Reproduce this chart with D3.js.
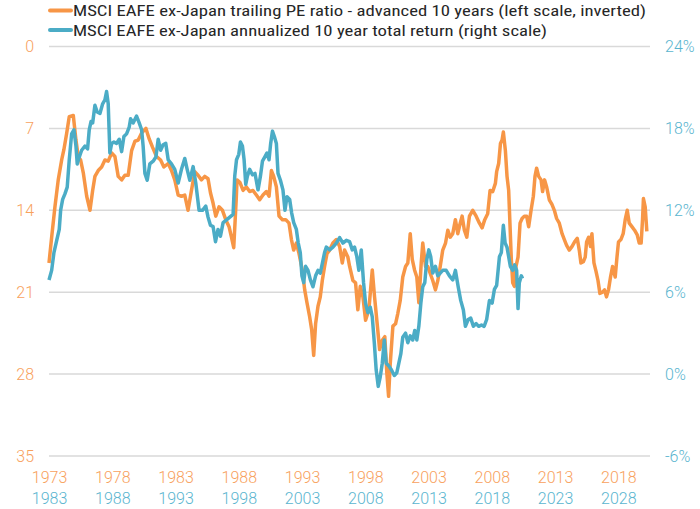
<!DOCTYPE html>
<html>
<head>
<meta charset="utf-8">
<script src="https://cdn.jsdelivr.net/npm/d3@7"></script>
<style>
  html, body { margin: 0; padding: 0; background: #fff; }
  svg { display: block; }
</style>
</head>
<body>
<div id="chart"></div>
<script>
// PE ratio, plotted on the upper (1973..) date axis, inverted left scale
const peSeries = [
  [1973.00, 18.5], [1973.21, 16.3], [1973.47, 13.7], [1973.73, 11.4], [1974.00, 9.7],
  [1974.18, 8.8], [1974.40, 7.4], [1974.60, 6.0], [1974.92, 5.9], [1975.13, 8.0],
  [1975.31, 9.4], [1975.50, 9.7], [1975.71, 10.8], [1975.98, 12.8], [1976.24, 14.0],
  [1976.45, 12.3], [1976.63, 11.1], [1976.89, 10.6], [1977.16, 10.3], [1977.42, 9.7],
  [1977.68, 9.8], [1977.95, 9.1], [1978.21, 9.4], [1978.47, 11.1], [1978.74, 11.4],
  [1979.00, 11.0], [1979.26, 11.0], [1979.53, 8.9], [1979.79, 8.1], [1980.05, 8.0],
  [1980.32, 7.4], [1980.66, 7.0], [1980.92, 7.9], [1981.18, 8.6], [1981.50, 9.4],
  [1981.82, 9.7], [1982.08, 10.3], [1982.42, 10.0], [1982.68, 10.6], [1982.94, 11.4],
  [1983.21, 12.7], [1983.47, 12.8], [1983.73, 12.7], [1983.99, 14.0], [1984.26, 12.3],
  [1984.52, 10.7], [1984.78, 11.0], [1985.05, 11.4], [1985.31, 11.1], [1985.57, 11.3],
  [1985.76, 12.5], [1985.97, 13.4], [1986.18, 14.5], [1986.44, 13.7], [1986.71, 14.0],
  [1986.97, 14.8], [1987.23, 15.4], [1987.42, 16.3], [1987.60, 17.2], [1987.80, 13.0],
  [1987.86, 11.4], [1988.08, 11.6], [1988.34, 12.3], [1988.60, 12.0], [1988.86, 12.4],
  [1989.12, 12.3], [1989.39, 12.7], [1989.65, 13.1], [1989.91, 12.7], [1990.18, 12.4],
  [1990.39, 12.8], [1990.58, 10.6], [1990.76, 11.1], [1990.97, 12.0], [1991.18, 14.5],
  [1991.45, 14.8], [1991.71, 14.8], [1991.97, 15.1], [1992.16, 16.5], [1992.34, 17.4],
  [1992.55, 16.8], [1992.76, 17.7], [1993.02, 19.1], [1993.21, 20.8], [1993.39, 21.9],
  [1993.60, 23.1], [1993.76, 24.2], [1993.92, 26.4], [1994.07, 23.7], [1994.26, 22.2],
  [1994.44, 21.4], [1994.60, 20.0], [1994.78, 18.8], [1994.97, 17.7], [1995.18, 17.4],
  [1995.44, 16.8], [1995.71, 16.5], [1995.97, 17.1], [1996.18, 18.5], [1996.36, 17.4],
  [1996.62, 18.0], [1996.76, 18.8], [1997.02, 20.0], [1997.23, 20.2], [1997.41, 22.5],
  [1997.60, 20.5], [1997.81, 21.4], [1998.02, 23.4], [1998.28, 22.5], [1998.55, 19.1],
  [1998.73, 21.4], [1998.91, 23.4], [1999.13, 25.9], [1999.34, 25.1], [1999.54, 24.8],
  [1999.70, 27.9], [1999.84, 29.9], [1999.97, 27.1], [2000.18, 23.9], [2000.39, 23.7],
  [2000.57, 22.8], [2000.76, 21.7], [2000.96, 19.7], [2001.18, 18.8], [2001.36, 18.5],
  [2001.55, 16.0], [2001.71, 18.2], [2001.89, 19.1], [2002.07, 19.7], [2002.23, 21.9],
  [2002.42, 18.5], [2002.54, 16.8], [2002.76, 18.8], [2002.94, 18.8], [2003.13, 19.4],
  [2003.33, 20.0], [2003.54, 20.8], [2003.73, 20.0], [2003.92, 18.8], [2004.12, 17.4],
  [2004.34, 16.8], [2004.52, 15.7], [2004.71, 16.3], [2004.91, 16.0], [2005.12, 14.8],
  [2005.31, 16.0], [2005.50, 15.1], [2005.65, 14.5], [2005.83, 15.7], [2006.02, 16.3],
  [2006.23, 14.5], [2006.49, 14.0], [2006.76, 14.5], [2007.02, 15.1], [2007.23, 15.5],
  [2007.44, 14.8], [2007.67, 14.3], [2007.86, 12.3], [2008.07, 12.4], [2008.28, 11.7],
  [2008.38, 10.7], [2008.54, 10.0], [2008.68, 8.3], [2008.81, 8.0], [2008.91, 7.3],
  [2009.07, 8.9], [2009.20, 11.1], [2009.33, 12.3], [2009.44, 15.4], [2009.54, 18.2],
  [2009.65, 20.2], [2009.78, 20.5], [2009.91, 18.8], [2010.07, 18.0], [2010.23, 15.1],
  [2010.39, 14.7], [2010.57, 14.5], [2010.75, 14.5], [2010.91, 15.4], [2011.10, 14.0],
  [2011.28, 12.8], [2011.41, 11.1], [2011.54, 10.4], [2011.70, 11.1], [2011.89, 11.4],
  [2012.01, 12.4], [2012.17, 11.4], [2012.33, 12.0], [2012.54, 13.1], [2012.75, 13.5],
  [2012.94, 14.0], [2013.12, 14.7], [2013.33, 15.1], [2013.55, 16.0], [2013.73, 16.5],
  [2013.91, 17.0], [2014.12, 17.4], [2014.33, 17.1], [2014.54, 16.7], [2014.75, 16.4],
  [2014.91, 17.4], [2015.04, 18.5], [2015.23, 18.4], [2015.38, 18.0], [2015.49, 16.7],
  [2015.65, 16.3], [2015.80, 17.1], [2015.91, 16.0], [2016.07, 18.5], [2016.23, 19.2],
  [2016.39, 20.0], [2016.54, 21.1], [2016.75, 21.0], [2016.91, 20.8], [2017.06, 21.4],
  [2017.22, 20.8], [2017.38, 19.7], [2017.54, 18.8], [2017.75, 19.7], [2017.89, 18.0],
  [2018.01, 16.7], [2018.20, 16.5], [2018.38, 16.0], [2018.54, 14.8], [2018.70, 14.0],
  [2018.86, 15.1], [2019.07, 15.4], [2019.28, 15.7], [2019.49, 16.1], [2019.65, 16.8],
  [2019.80, 16.8], [2019.91, 14.8], [2019.98, 13.0], [2020.12, 13.7], [2020.25, 15.8]
];

// annualized 10y total return (%), plotted on the lower (1983..) date axis
const returnSeries = [
  [1983.00, 6.9], [1983.21, 7.6], [1983.39, 8.9], [1983.61, 9.8], [1983.81, 10.6],
  [1983.92, 12.0], [1984.08, 12.8], [1984.26, 13.2], [1984.44, 13.7], [1984.60, 15.7],
  [1984.79, 17.6], [1984.97, 17.9], [1985.13, 16.7], [1985.23, 15.4], [1985.39, 15.9],
  [1985.58, 16.4], [1985.84, 16.7], [1986.05, 16.5], [1986.18, 17.9], [1986.32, 18.5],
  [1986.45, 18.4], [1986.63, 19.7], [1986.81, 19.2], [1987.03, 19.1], [1987.24, 19.8],
  [1987.42, 20.1], [1987.55, 20.7], [1987.68, 19.8], [1987.81, 16.2], [1987.95, 16.9],
  [1988.13, 17.0], [1988.34, 16.9], [1988.55, 17.2], [1988.74, 16.3], [1988.92, 17.4],
  [1989.13, 17.6], [1989.34, 18.1], [1989.45, 18.7], [1989.65, 18.4], [1989.92, 18.9],
  [1990.13, 18.4], [1990.32, 17.9], [1990.44, 16.7], [1990.58, 14.7], [1990.76, 14.2],
  [1990.97, 15.4], [1991.23, 15.6], [1991.45, 15.9], [1991.63, 17.2], [1991.82, 16.4],
  [1992.02, 16.8], [1992.23, 16.9], [1992.42, 15.7], [1992.68, 15.4], [1992.94, 15.0],
  [1993.21, 14.0], [1993.47, 15.0], [1993.73, 15.8], [1993.92, 15.0], [1994.13, 14.2],
  [1994.39, 15.2], [1994.60, 14.0], [1994.86, 12.0], [1995.13, 12.0], [1995.39, 12.3],
  [1995.57, 11.5], [1995.76, 10.9], [1995.97, 10.8], [1996.16, 9.7], [1996.36, 10.6],
  [1996.55, 10.1], [1996.76, 11.1], [1997.03, 11.3], [1997.29, 11.5], [1997.55, 11.7],
  [1997.68, 14.5], [1997.82, 15.7], [1998.00, 16.1], [1998.13, 17.0], [1998.29, 16.7],
  [1998.42, 15.7], [1998.55, 13.9], [1998.68, 14.5], [1998.86, 15.0], [1999.08, 14.6],
  [1999.28, 14.7], [1999.52, 13.5], [1999.71, 14.5], [1999.87, 15.6], [2000.05, 15.9],
  [2000.23, 16.2], [2000.39, 15.7], [2000.52, 16.9], [2000.66, 17.8], [2000.81, 17.4],
  [2000.97, 16.9], [2001.10, 14.7], [2001.29, 14.2], [2001.49, 13.5], [2001.65, 12.0],
  [2001.81, 13.0], [2002.02, 12.8], [2002.18, 11.8], [2002.34, 11.1], [2002.55, 10.6],
  [2002.70, 9.6], [2002.86, 8.9], [2002.99, 7.2], [2003.13, 6.7], [2003.28, 7.9],
  [2003.47, 7.6], [2003.66, 6.9], [2003.86, 6.4], [2004.07, 7.2], [2004.26, 7.6],
  [2004.44, 7.4], [2004.60, 8.1], [2004.78, 8.9], [2004.92, 9.3], [2005.18, 9.1],
  [2005.44, 9.3], [2005.71, 9.6], [2005.97, 10.0], [2006.23, 9.6], [2006.50, 9.8],
  [2006.76, 9.7], [2006.97, 9.1], [2007.15, 9.3], [2007.33, 8.6], [2007.49, 7.6],
  [2007.68, 9.1], [2007.86, 6.7], [2008.02, 5.2], [2008.20, 4.5], [2008.39, 4.9],
  [2008.55, 4.2], [2008.71, 2.3], [2008.86, 0.3], [2009.02, -0.9], [2009.18, -0.2],
  [2009.34, 0.8], [2009.50, 2.5], [2009.65, 0.8], [2009.86, 0.6], [2010.07, 0.3],
  [2010.29, -0.1], [2010.49, 0.1], [2010.65, 0.8], [2010.81, 1.5], [2010.96, 2.7],
  [2011.18, 3.0], [2011.36, 2.3], [2011.55, 2.8], [2011.75, 2.5], [2011.91, 3.2],
  [2012.07, 2.5], [2012.23, 3.5], [2012.39, 5.2], [2012.54, 6.4], [2012.70, 6.7],
  [2012.86, 8.4], [2013.02, 9.1], [2013.17, 8.6], [2013.33, 7.4], [2013.54, 7.9],
  [2013.73, 7.2], [2013.92, 7.4], [2014.12, 7.6], [2014.39, 7.6], [2014.65, 7.2],
  [2014.91, 6.9], [2015.12, 7.6], [2015.34, 6.4], [2015.54, 5.4], [2015.75, 4.7],
  [2015.91, 3.5], [2016.13, 4.0], [2016.33, 4.1], [2016.54, 3.5], [2016.76, 3.7],
  [2016.96, 3.5], [2017.18, 3.6], [2017.39, 3.5], [2017.59, 4.0], [2017.81, 5.4],
  [2018.02, 5.2], [2018.20, 6.2], [2018.38, 6.5], [2018.60, 8.6], [2018.75, 8.9],
  [2018.91, 10.9], [2019.05, 9.6], [2019.20, 9.3], [2019.33, 8.6], [2019.46, 7.9],
  [2019.65, 7.6], [2019.80, 8.0], [2019.96, 7.6], [2020.07, 4.8], [2020.17, 6.7],
  [2020.33, 7.2], [2020.43, 7.0]
];

const peTicks = [0, 7, 14, 21, 28, 35];
const returnTicks = [24, 18, 12, 6, 0, -6];
const peYearTicks = [1973, 1978, 1983, 1988, 1993, 1998, 2003, 2008, 2013, 2018];
const returnYearTicks = [1983, 1988, 1993, 1998, 2003, 2008, 2013, 2018, 2023, 2028];

const legendLabels = [
  'MSCI EAFE ex-Japan trailing PE ratio - advanced 10 years (left scale, inverted)',
  'MSCI EAFE ex-Japan annualized 10 year total return (right scale)'
];

const ORANGE = '#f79646';
const BLUE = '#4bacc6';
const ORANGE_TXT = '#f8a15d';
const BLUE_TXT = '#5ab5cf';

const width = 700, height = 509;
const plot = { left: 49, right: 650, top: 46.5, bottom: 456 };

const svg = d3.select('#chart').append('svg')
  .attr('width', width)
  .attr('height', height);

// scales: two date axes sharing the same pixel range, offset by 10 years
const xPE = d3.scaleLinear().domain([1973, 2020.5]).range([plot.left, plot.right]);
const xRet = d3.scaleLinear().domain([1983, 2030.5]).range([plot.left, plot.right]);
const yPE = d3.scaleLinear().domain([0, 35]).range([plot.top, plot.bottom]);
const yRet = d3.scaleLinear().domain([24, -6]).range([plot.top, plot.bottom]);

const tickFont = 'Roboto, "Liberation Sans", Arial, sans-serif';

function styleTicks(g, color) {
  g.select('.domain').remove();
  g.selectAll('text')
    .style('font-family', tickFont)
    .style('font-weight', 300)
    .style('font-size', '16px')
    .style('fill', color);
}

// gridlines
svg.append('g')
  .selectAll('line')
  .data(peTicks)
  .join('line')
  .attr('x1', plot.left)
  .attr('x2', plot.right)
  .attr('y1', d => yPE(d))
  .attr('y2', d => yPE(d))
  .style('stroke', '#d9d9d9')
  .style('stroke-width', 1.5);

// left axis (PE, inverted)
svg.append('g')
  .attr('transform', `translate(${plot.left - 15},0)`)
  .call(d3.axisLeft(yPE).tickValues(peTicks).tickSize(0).tickPadding(0))
  .call(g => styleTicks(g, ORANGE_TXT));

// right axis (return)
svg.append('g')
  .attr('transform', `translate(${plot.right + 15},0)`)
  .call(d3.axisRight(yRet).tickValues(returnTicks).tickSize(0).tickPadding(0)
    .tickFormat(d => d + '%'))
  .call(g => styleTicks(g, BLUE_TXT));

// bottom axes
svg.append('g')
  .attr('transform', `translate(0,${plot.bottom + 16})`)
  .call(d3.axisBottom(xPE).tickValues(peYearTicks).tickSize(0).tickPadding(0)
    .tickFormat(d3.format('d')))
  .call(g => styleTicks(g, ORANGE_TXT));

svg.append('g')
  .attr('transform', `translate(0,${plot.bottom + 37})`)
  .call(d3.axisBottom(xRet).tickValues(returnYearTicks).tickSize(0).tickPadding(0)
    .tickFormat(d3.format('d')))
  .call(g => styleTicks(g, BLUE_TXT));

// lines
const pePath = d3.line().x(d => xPE(d[0])).y(d => yPE(d[1]));
const retPath = d3.line().x(d => xRet(d[0])).y(d => yRet(d[1]));

svg.append('path')
  .datum(peSeries)
  .attr('d', pePath)
  .style('fill', 'none')
  .style('stroke', ORANGE)
  .style('stroke-width', 3.5)
  .style('stroke-linejoin', 'round');

svg.append('path')
  .datum(returnSeries)
  .attr('d', retPath)
  .style('fill', 'none')
  .style('stroke', BLUE)
  .style('stroke-width', 3.5)
  .style('stroke-linejoin', 'round');

// legend
const legendRows = svg.append('g')
  .selectAll('g')
  .data(legendLabels)
  .join('g')
  .attr('transform', (d, i) => `translate(50,${10.5 + i * 19.5})`);

legendRows.append('line')
  .attr('x1', 0)
  .attr('x2', 21)
  .style('stroke', (d, i) => i === 0 ? ORANGE : BLUE)
  .style('stroke-width', 4)
  .style('stroke-linecap', 'round');

legendRows.append('text')
  .attr('x', 23)
  .attr('y', 5.5)
  .attr('textLength', (d, i) => i === 0 ? 573 : 474)
  .attr('lengthAdjust', 'spacingAndGlyphs')
  .style('font-family', '"Liberation Sans Narrow", "Roboto Condensed", "Liberation Sans", Arial, sans-serif')
  .style('font-size', '15.5px')
  .style('fill', '#262626')
  .text(d => d);
</script>
</body>
</html>
